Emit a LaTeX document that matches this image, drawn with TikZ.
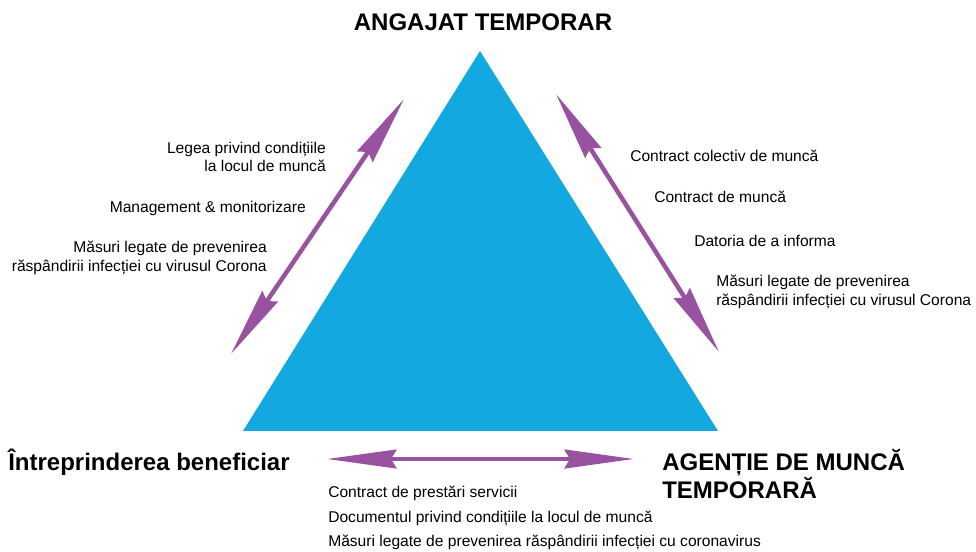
\documentclass[tikz,border=0pt]{standalone}
\usepackage{fontspec}
\setmainfont{Liberation Sans}
\usepackage{tikz}
\usetikzlibrary{arrows.meta,positioning}
\usepackage{xcolor}
\definecolor{triblue}{RGB}{19,168,224}
\definecolor{linkpurple}{RGB}{152,82,160}

\begin{document}
\begin{tikzpicture}[x=0.75pt,y=-0.75pt]
    \tikzstyle{party} = [font=\fontsize{18}{18.75}\selectfont\bfseries, inner sep=0pt, align=left]
    \tikzstyle{item} = [font=\fontsize{11.7}{14}\selectfont, inner sep=0pt]
    \tikzstyle{link} = [draw=linkpurple, line width=3.4pt,
               {Stealth[length=52pt,width=14pt,inset=4pt]}-{Stealth[length=52pt,width=14pt,inset=4pt]}]

    \useasboundingbox (0,0) rectangle (976,552);

    % Define triangle
    \coordinate (apex) at (480,51);
    \coordinate (baseL) at (243,431);
    \coordinate (baseR) at (718,431);
    \fill [triblue] (apex) -- (baseL) -- (baseR) -- cycle;

    % Parties
    \node [party, anchor=center] (worker) at (483,22) {ANGAJAT TEMPORAR};
    \node [party, anchor=west] (user) at (8,462) {Întreprinderea beneficiar};
    \node [party, anchor=west] (agency) at (662,474) {AGENȚIE DE MUNCĂ\\TEMPORARĂ};

    % Arrow ends
    \coordinate (lTop) at (404,99);
    \coordinate (lBot) at (231,354);
    \coordinate (rTop) at (556,94);
    \coordinate (rBot) at (719,352);
    \coordinate (bLeft) at (327,459);
    \coordinate (bRight) at (634,459);

    \draw [link] (lTop) -- (lBot);
    \draw [link] (rTop) -- (rBot);
    \draw [link] (bLeft) -- (bRight);

    % Left side texts
    \node [item, anchor=east, align=right] (lawL) at (326,157) {Legea privind condițiile\\la locul de muncă};
    \node [item, anchor=east] (mgmt) at (306,208) {Management \& monitorizare};
    \node [item, anchor=east, align=right] (covL) at (267,258) {Măsuri legate de prevenirea\\răspândirii infecției cu virusul Corona};

    % Right side texts
    \node [item, anchor=west] (ccm) at (630,156) {Contract colectiv de muncă};
    \node [item, anchor=west] (cm) at (654,197) {Contract de muncă};
    \node [item, anchor=west] (info) at (694,241) {Datoria de a informa};
    \node [item, anchor=west, align=left] (covR) at (716,292) {Măsuri legate de prevenirea\\răspândirii infecției cu virusul Corona};

    % Bottom texts
    \node [item, anchor=west] (service) at (328,493) {Contract de prestări servicii};
    \node [item, anchor=west] (docs) at (328,518) {Documentul privind condițiile la locul de muncă};
    \node [item, anchor=west] (covB) at (328,542) {Măsuri legate de prevenirea răspândirii infecției cu coronavirus};

  \end{tikzpicture}
\end{document}
